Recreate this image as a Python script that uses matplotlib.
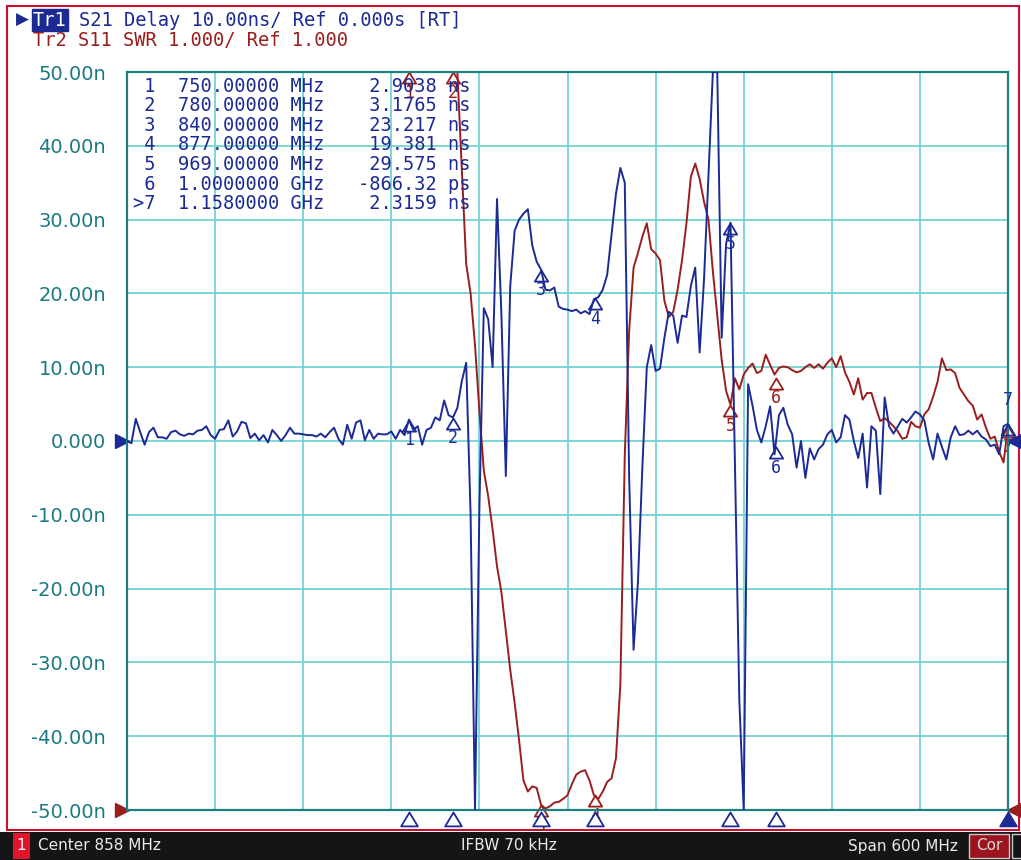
import numpy as np
import matplotlib
matplotlib.use("Agg")
import matplotlib.pyplot as plt
from matplotlib.path import Path
from matplotlib.patches import Rectangle

W, H = 1021, 860

# sweep settings (linear sweep)
CENTER_MHZ = 858
SPAN_MHZ = 600
N_POINTS = 201

# Tr1: S21 group delay, ns (values beyond +-50 are off screen)
blue_delay_ns = [
    0.0, -0.3, 3.0, 1.2, -0.5, 1.2, 1.8, 0.5, 0.5, 0.3,
    1.2, 1.4, 0.9, 0.7, 1.0, 0.9, 1.4, 1.5, 2.0, 0.8,
    0.3, 1.5, 1.6, 2.8, 0.6, 1.3, 2.6, 2.4, 0.4, 1.0,
    0.1, 0.8, -0.2, 1.5, 0.8, 0.0, 0.8, 1.8, 1.0, 1.0,
    0.9, 0.8, 0.8, 0.6, 1.0, 0.5, 1.2, 1.8, 0.3, -0.5,
    2.2, 0.3, 2.5, 2.8, 0.1, 1.5, 0.3, 1.0, 0.9, 0.9,
    1.3, 0.3, 1.5, 0.8, 2.9, 1.5, 2.0, -0.5, 1.5, 1.8,
    3.2, 2.8, 5.5, 3.5, 3.18, 4.5, 8.1, 10.6, -10.0, -60.0,
    -9.0, 18.0, 16.5, 10.0, 32.8, 17.0, -4.75, 21.0, 28.5, 30.0,
    30.8, 31.4, 26.5, 24.3, 23.217, 20.5, 20.4, 20.8, 18.2, 17.9,
    17.8, 17.6, 17.8, 17.3, 17.6, 17.2, 19.2, 19.5, 20.5, 22.5,
    28.0, 33.5, 37.0, 35.0, -5.0, -28.3, -19.0, -3.5, 10.0, 13.0,
    9.5, 9.8, 14.0, 17.5, 17.0, 13.3, 17.0, 16.8, 21.0, 23.5,
    12.0, 22.0, 36.0, 60.0, 60.0, 14.0, 26.7, 29.575, -3.0, -35.0,
    -60.0, 7.7, 4.8, 1.5, -0.2, 2.0, 4.7, -1.8, 3.5, 4.5,
    2.2, 0.9, -3.6, 0.0, -5.0, -1.0, -2.5, -1.1, -0.5, 0.9,
    1.5, -0.2, 0.5, 3.5, 2.9, 0.0, -2.3, 1.0, -6.3, 2.0,
    1.4, -7.2, 5.9, 2.0, 1.0, 2.0, 3.0, 2.5, 3.2, 4.0,
    3.6, 2.8, -0.3, -2.5, 1.0, -0.8, -2.5, 0.5, 2.0, 0.8,
    0.9, 1.4, 0.9, 1.4, 0.6, 0.2, -0.7, -0.5, -1.8, 2.0,
    2.32,
]

# Tr2: S11 SWR (values above 11 are off screen, first 76 points pinned at top)
red_swr = [
    12.0, 12.0, 12.0, 12.0, 12.0, 12.0, 12.0, 12.0, 12.0, 12.0,
    12.0, 12.0, 12.0, 12.0, 12.0, 12.0, 12.0, 12.0, 12.0, 12.0,
    12.0, 12.0, 12.0, 12.0, 12.0, 12.0, 12.0, 12.0, 12.0, 12.0,
    12.0, 12.0, 12.0, 12.0, 12.0, 12.0, 12.0, 12.0, 12.0, 12.0,
    12.0, 12.0, 12.0, 12.0, 12.0, 12.0, 12.0, 12.0, 12.0, 12.0,
    12.0, 12.0, 12.0, 12.0, 12.0, 12.0, 12.0, 12.0, 12.0, 12.0,
    12.0, 12.0, 12.0, 12.0, 12.0, 12.0, 12.0, 12.0, 12.0, 12.0,
    12.0, 12.0, 12.0, 12.0, 12.0, 12.0, 9.7, 8.4, 8.0, 7.3,
    6.4, 5.6, 5.25, 4.8, 4.3, 3.95, 3.42, 2.9, 2.45, 1.95,
    1.4, 1.25, 1.32, 1.3, 1.07, 1.02, 1.05, 1.1, 1.11, 1.15,
    1.2, 1.35, 1.48, 1.52, 1.54, 1.4, 1.2, 1.15, 1.25, 1.38,
    1.43, 1.7, 2.7, 5.8, 7.5, 8.35, 8.55, 8.77, 8.95, 8.6,
    8.54, 8.45, 7.9, 7.68, 7.75, 8.05, 8.45, 8.95, 9.58, 9.76,
    9.55, 9.24, 9.0, 8.3, 7.7, 7.1, 6.68, 6.49, 6.85, 6.7,
    6.9, 6.99, 7.05, 6.92, 6.95, 7.17, 7.03, 6.9, 6.99, 7.01,
    7.0, 6.96, 6.93, 6.95, 7.0, 7.04, 6.99, 7.04, 6.98, 7.06,
    7.12, 7.0, 7.15, 6.93, 6.8, 6.63, 6.85, 6.56, 6.65, 6.65,
    6.45, 6.27, 6.31, 6.26, 6.2, 6.13, 6.03, 6.05, 6.26, 6.2,
    6.18, 6.36, 6.43, 6.6, 6.8, 7.12, 6.96, 6.97, 6.92, 6.72,
    6.63, 6.54, 6.48, 6.29, 6.36, 6.18, 6.03, 6.06, 5.85, 5.71,
    6.2,
]

marker_ids = ["1", "2", "3", "4", "5", "6", "7"]
marker_freq_mhz = [750, 780, 840, 877, 969, 1000, 1158]
marker_delay_ns = [2.9038, 3.1765, 23.217, 19.381, 29.575, -0.86632, 2.3159]
marker_swr = [12.0, 12.0, 1.07, 1.2, 6.49, 6.86, 6.2]

table_labels = ["1", "2", "3", "4", "5", "6", ">7"]
table_stim = ["750.00000", "780.00000", "840.00000", "877.00000",
              "969.00000", "1.0000000", "1.1580000"]
table_stim_unit = ["MHz", "MHz", "MHz", "MHz", "MHz", "GHz", "GHz"]
table_resp = ["2.9038", "3.1765", "23.217", "19.381", "29.575", "-866.32", "2.3159"]
table_resp_unit = ["ns", "ns", "ns", "ns", "ns", "ps", "ns"]

ytick_ns = [50, 40, 30, 20, 10, 0, -10, -20, -30, -40, -50]
ytick_labels = ["50.00n", "40.00n", "30.00n", "20.00n", "10.00n", "0.000",
                "-10.00n", "-20.00n", "-30.00n", "-40.00n", "-50.00n"]

assert len(blue_delay_ns) == N_POINTS and len(red_swr) == N_POINTS

NAVY = "#1c2a94"
DRED = "#9a1e1e"
GRID = "#74d2d2"
FRAME = "#1c8080"
TEAL_TXT = "#1b7a80"
CRIMSON = "#c8102e"
MONO = "DejaVu Sans Mono"


def fx(x):
    return x / W


def fy(y):
    return 1 - y / H


# triangle with its apex at the data point
APEX_UP = Path([(0, 0), (-0.6, -1), (0.6, -1), (0, 0)],
               [Path.MOVETO, Path.LINETO, Path.LINETO, Path.CLOSEPOLY])

freq = np.linspace(CENTER_MHZ - SPAN_MHZ / 2, CENTER_MHZ + SPAN_MHZ / 2, N_POINTS)
blue = np.clip(np.array(blue_delay_ns), -50, 50)
red = np.clip(np.array(red_swr), 1, 11)

fig = plt.figure(figsize=(W / 100, H / 100), dpi=100)
fig.patch.set_facecolor("white")

ax = fig.add_axes([fx(127), fy(810), fx(1008) - fx(127), fy(72) - fy(810)])
ax2 = ax.twinx()
ax2.set_zorder(1)
ax.set_zorder(2)
ax.patch.set_visible(False)
ax2.patch.set_visible(True)
ax2.patch.set_facecolor("white")

x_lo, x_hi = freq[0], freq[-1]
ax.set_xlim(x_lo, x_hi)
ax.set_ylim(-50, 50)
ax2.set_ylim(1, 11)

# grid (drawn under the traces)
for xv in np.linspace(x_lo, x_hi, 11)[1:-1]:
    ax2.axvline(xv, color=GRID, lw=1.3, zorder=0)
for yv in range(2, 11):
    ax2.axhline(yv, color=GRID, lw=1.3, zorder=0)

ax2.plot(freq, red, color=DRED, lw=1.4, zorder=2)
ax.plot(freq, blue, color=NAVY, lw=1.4, zorder=3)

ax.set_yticks(ytick_ns)
ax.set_yticklabels(ytick_labels)
ax.set_xticks([])
ax.tick_params(axis="y", length=0, pad=15, labelsize=14, labelcolor=TEAL_TXT)
ax2.set_yticks([])
for sp in ax.spines.values():
    sp.set_color(FRAME)
    sp.set_linewidth(1.6)
for sp in ax2.spines.values():
    sp.set_visible(False)

# markers on the traces
for mid, f, d, s in zip(marker_ids, marker_freq_mhz, marker_delay_ns, marker_swr):
    d_c = min(max(d, -50), 50)
    ax.plot([f], [d_c], marker=APEX_UP, ms=16, mfc="none", mec=NAVY, mew=1.3,
            clip_on=False, zorder=5)
    dy = 17 if mid == "7" else -15
    ax.annotate(mid, (f, d_c), xytext=(0, dy), textcoords="offset points",
                ha="center", va="center", color=NAVY, fontsize=12,
                family=MONO, annotation_clip=False, zorder=5)
    s_c = min(max(s, 1), 11)
    ax2.plot([f], [s_c], marker=APEX_UP, ms=16, mfc="none", mec=DRED, mew=1.3,
             clip_on=False, zorder=4)
    ax2.annotate(mid, (f, s_c), xytext=(0, -15), textcoords="offset points",
                 ha="center", va="center", color=DRED, fontsize=12,
                 family=MONO, annotation_clip=False, zorder=4)

# stimulus marker indicators below the grid
xt = ax.get_xaxis_transform()
for mid, f in zip(marker_ids, marker_freq_mhz):
    active = mid == "7"
    ax.plot([f], [-0.003], marker=APEX_UP, ms=20, transform=xt, clip_on=False,
            mfc=NAVY if active else "white", mec=NAVY, mew=1.3, zorder=6)

# reference position arrows
yt = ax.get_yaxis_transform()
ax.plot([-0.006], [0], marker=">", ms=10, color=NAVY, transform=yt, clip_on=False)
ax.plot([1.007], [0], marker="<", ms=10, color=NAVY, transform=yt, clip_on=False)
yt2 = ax2.get_yaxis_transform()
ax2.plot([-0.006], [1], marker=">", ms=10, color=DRED, transform=yt2, clip_on=False)
ax2.plot([1.007], [1], marker="<", ms=10, color=DRED, transform=yt2, clip_on=False)

# marker table
for k in range(len(table_labels)):
    line = (f"{table_labels[k]:>2}  {table_stim[k]:>9} {table_stim_unit[k]}"
            f" {table_resp[k]:>9} {table_resp_unit[k]}")
    fig.text(fx(133), fy(86 + 19.6 * k), line, family=MONO, fontsize=13.4,
             color=NAVY, va="center", ha="left", zorder=10)

# header
fig.text(fx(16), fy(20), "\u25b6", family="DejaVu Sans", fontsize=12,
         color=NAVY, va="center", ha="left")
fig.text(fx(33), fy(20), "Tr1", family=MONO, fontsize=13.5, color="white",
         va="center", ha="left",
         bbox=dict(boxstyle="square,pad=0.08", facecolor=NAVY, edgecolor=NAVY))
fig.text(fx(79), fy(20), "S21 Delay 10.00ns/ Ref 0.000s [RT]", family=MONO,
         fontsize=13.5, color=NAVY, va="center", ha="left")
fig.text(fx(33), fy(41), "Tr2 S11 SWR 1.000/ Ref 1.000", family=MONO,
         fontsize=13.5, color=DRED, va="center", ha="left")

# outer frame and status bar
fig.add_artist(Rectangle((fx(7), fy(830)), fx(1019) - fx(7), fy(6) - fy(830),
                         transform=fig.transFigure, fill=False,
                         edgecolor=CRIMSON, lw=1.5))
fig.add_artist(Rectangle((0, 0), 1, fy(832), transform=fig.transFigure,
                         facecolor="#151515", edgecolor="none"))
fig.add_artist(Rectangle((fx(13), fy(859)), fx(17), fy(833) - fy(859),
                         transform=fig.transFigure, facecolor="#e0142a",
                         edgecolor="none"))
fig.text(fx(21.5), fy(846), "1", color="white", fontsize=11, ha="center", va="center")
fig.text(fx(38), fy(846), "Center 858 MHz", color="#ececec", fontsize=11,
         ha="left", va="center")
fig.text(fx(509), fy(846), "IFBW 70 kHz", color="#ececec", fontsize=11,
         ha="center", va="center")
fig.text(fx(958), fy(846), "Span 600 MHz", color="#ececec", fontsize=11,
         ha="right", va="center")
fig.add_artist(Rectangle((fx(969), fy(858)), fx(40), fy(834) - fy(858),
                         transform=fig.transFigure, facecolor="#9c1420",
                         edgecolor="#c8c8c8", lw=1))
fig.text(fx(989), fy(846), "Cor", color="#d8d8d8", fontsize=11,
         ha="center", va="center")
fig.add_artist(Rectangle((fx(1012), fy(858)), fx(10), fy(834) - fy(858),
                         transform=fig.transFigure, facecolor="#151515",
                         edgecolor="#c8c8c8", lw=1))

fig.savefig("out.png", dpi=100)
